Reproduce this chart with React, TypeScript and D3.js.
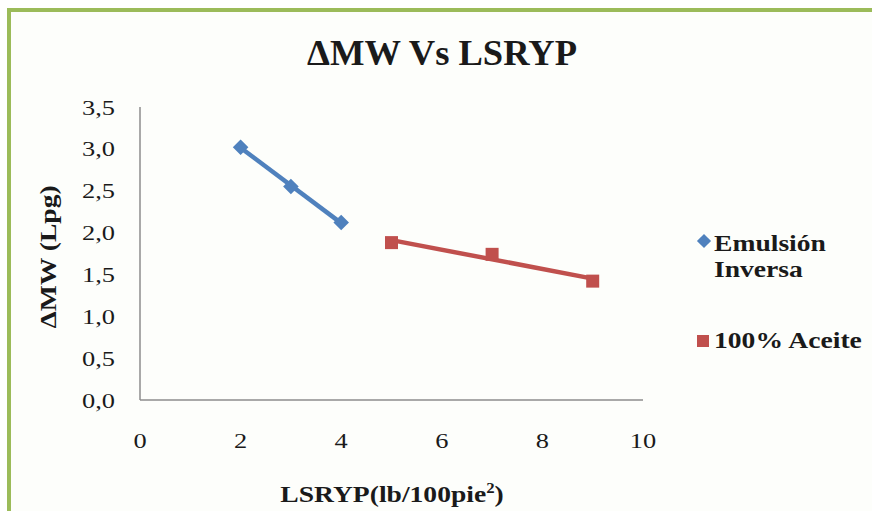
import React from "react";
import * as d3 from "d3";

const emulsionX = [2, 3, 4];
const emulsionY = [3.02, 2.55, 2.12];
const aceiteX = [5, 7, 9];
const aceiteY = [1.88, 1.74, 1.42];
const xTicks = [0, 2, 4, 6, 8, 10];
const yTicks = [0, 0.5, 1, 1.5, 2, 2.5, 3, 3.5];
const seriesNames = ["Emulsión", "Inversa", "100% Aceite"];

const W = 872;
const H = 511;
const FONT = "Liberation Serif, Times New Roman, DejaVu Serif, serif";
const SX = 1.2;

function fit(xs: number[], ys: number[]) {
  const mx = d3.mean(xs)!;
  const my = d3.mean(ys)!;
  let num = 0, den = 0;
  xs.forEach((x, i) => { num += (x - mx) * (ys[i] - my); den += (x - mx) ** 2; });
  const b = num / den;
  const a = my - b * mx;
  return (x: number) => a + b * x;
}

function T({ x, y, children, anchor = "start", bold = false, size = 23, rot = 0 }: any) {
  return (
    <g transform={`translate(${x},${y}) rotate(${rot}) scale(${SX},1)`}>
      <text x={0} y={0} textAnchor={anchor} style={{ fontFamily: FONT }} fontWeight={bold ? "bold" : "normal"} fontSize={size} fill="#1a1a1a">{children}</text>
    </g>
  );
}

export default function App() {
  const x = d3.scaleLinear().domain([0, 10]).range([140, 643]);
  const y = d3.scaleLinear().domain([0, 3.5]).range([400, 107]);
  const fe = fit(emulsionX, emulsionY);
  const fa = fit(aceiteX, aceiteY);
  const xe = d3.extent(emulsionX) as [number, number];
  const xa = d3.extent(aceiteX) as [number, number];
  const fmt = (v: number) => v.toFixed(1).replace(".", ",");
  const blue = "#4f81bd";
  const red = "#c0504d";
  return (
    <svg width={W} height={H} style={{ position: "absolute", left: 0, top: 0, display: "block" }}>
      <rect x={0} y={0} width={W} height={H} fill="#ffffff" />
      <rect x={9} y={10} width={W} height={H} fill="#fdfefb" stroke="#9bbb59" strokeWidth={4} />
      <text x={442} y={65} textAnchor="middle" style={{ fontFamily: FONT }} fontWeight="bold" fontSize={35} textLength={270} lengthAdjust="spacingAndGlyphs" fill="#1a1a1a">ΔMW Vs LSRYP</text>
      <line x1={x(0)} x2={x(0)} y1={y(3.5)} y2={y(0)} stroke="#8c8c8c" strokeWidth={1.5} />
      <line x1={x(0)} x2={x(10)} y1={y(0)} y2={y(0)} stroke="#8c8c8c" strokeWidth={1.5} />
      {yTicks.map((t) => (
        <T key={t} x={115} y={y(t) + 7.5} anchor="end" size={22}>{fmt(t)}</T>
      ))}
      {xTicks.map((t) => (
        <T key={t} x={x(t)} y={448} anchor="middle" size={22}>{t}</T>
      ))}
      <g transform="translate(56,257) rotate(-90) scale(1.2,1)">
        <text x={0} y={0} textAnchor="middle" style={{ fontFamily: FONT }} fontWeight="bold" fontSize={23} fill="#1a1a1a">ΔMW (Lpg)</text>
      </g>
      <T x={392} y={502} anchor="middle" bold size={23}>
        LSRYP(lb/100pie<tspan fontSize={14} dy={-9}>2</tspan><tspan dy={9}>)</tspan>
      </T>
      <line x1={x(xe[0])} y1={y(fe(xe[0]))} x2={x(xe[1])} y2={y(fe(xe[1]))} stroke={blue} strokeWidth={4.5} />
      <line x1={x(xa[0])} y1={y(fa(xa[0]))} x2={x(xa[1])} y2={y(fa(xa[1]))} stroke={red} strokeWidth={4.5} />
      {emulsionX.map((v, i) => (
        <rect key={i} x={x(v) - 5.5} y={y(emulsionY[i]) - 5.5} width={11} height={11} fill={blue} transform={`rotate(45 ${x(v)} ${y(emulsionY[i])})`} />
      ))}
      {aceiteX.map((v, i) => (
        <rect key={i} x={x(v) - 6.5} y={y(aceiteY[i]) - 6.5} width={13} height={13} fill={red} />
      ))}
      <rect x={704 - 5} y={241 - 5} width={10} height={10} fill={blue} transform="rotate(45 704 241)" />
      <T x={714} y={251} bold>{seriesNames[0]}</T>
      <T x={714} y={277} bold>{seriesNames[1]}</T>
      <rect x={697} y={335} width={12} height={12} fill={red} />
      <T x={714} y={348} bold>{seriesNames[2]}</T>
    </svg>
  );
}
